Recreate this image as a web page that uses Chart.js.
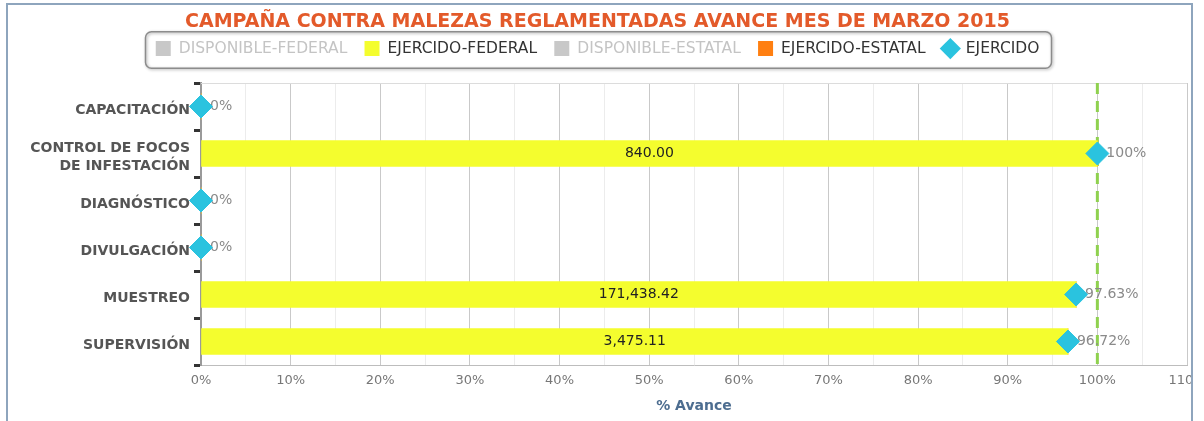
<!DOCTYPE html>
<html lang="es">
<head>
    <meta charset="UTF-8">
    <title>Campaña contra malezas reglamentadas</title>
    <script src="https://cdn.jsdelivr.net/npm/chart.js"></script>
    <style>
        body { margin: 0; background: #fff; }
        #marco {
            position: absolute; left: 6px; top: 3px;
            width: 1183px; height: 440px;
            border: 2px solid #8ea5bd; overflow: hidden;
        }
        #grafica { display: block; }
    </style>
</head>
<body>
    <div id="marco">
        <canvas id="grafica" width="1206" height="416"></canvas>
    </div>

    <script>
        // datos
        const categorias = ['CAPACITACIÓN', ['CONTROL DE FOCOS', 'DE INFESTACIÓN'], 'DIAGNÓSTICO', 'DIVULGACIÓN', 'MUESTREO', 'SUPERVISIÓN'];
        const disponibleFederal = [100, 0, 100, 100, 2.37, 3.28];
        const ejercidoFederal = [0, 100, 0, 0, 97.63, 96.72];
        const disponibleEstatal = [0, 0, 0, 0, 0, 0];
        const ejercidoEstatal = [0, 0, 0, 0, 0, 0];
        const ejercido = [0, 100, 0, 0, 97.63, 96.72];
        const montosFederal = ['', '840.00', '', '', '171,438.42', '3,475.11'];
        const etiquetasEjercido = ['0%', '100%', '0%', '0%', '97.63%', '96.72%'];
        const meta = 100;

        const nombresSeries = ['DISPONIBLE-FEDERAL', 'EJERCIDO-FEDERAL', 'DISPONIBLE-ESTATAL', 'EJERCIDO-ESTATAL', 'EJERCIDO'];
        const coloresSeries = ['#c8c8c8', '#f4fd2e', '#c8c8c8', '#ff7f11', '#2ac3df'];
        const textoLeyenda = ['#c4c4c4', '#333333', '#c4c4c4', '#333333', '#333333'];
        const formaLeyenda = ['rect', 'rect', 'rect', 'rect', 'rectRot'];

        const fuente = 'DejaVu Sans';

        // caja redondeada alrededor de la leyenda
        const cajaLeyenda = {
            id: 'cajaLeyenda',
            afterDraw(chart) {
                const cajas = chart.legend.legendHitBoxes;
                if (!cajas || !cajas.length) return;
                const ctx = chart.ctx;
                const x1 = cajas[0].left - 10;
                const ultima = cajas[cajas.length - 1];
                const x2 = ultima.left + ultima.width + 12;
                const y1 = cajas[0].top - 9;
                const y2 = cajas[0].top + cajas[0].height + 12;
                ctx.save();
                ctx.shadowColor = 'rgba(0,0,0,0.35)';
                ctx.shadowBlur = 3;
                ctx.shadowOffsetX = 1;
                ctx.shadowOffsetY = 1;
                ctx.strokeStyle = '#8c8c8c';
                ctx.lineWidth = 1.5;
                ctx.beginPath();
                ctx.roundRect(x1, y1, x2 - x1, y2 - y1, 6);
                ctx.stroke();
                ctx.restore();
            }
        };

        // linea punteada de la meta y borde superior
        const lineaMeta = {
            id: 'lineaMeta',
            beforeDatasetsDraw(chart) {
                const { ctx, chartArea } = chart;
                const x = chart.scales.x.getPixelForValue(meta);
                ctx.save();
                ctx.strokeStyle = '#dcdcdc';
                ctx.lineWidth = 1;
                ctx.beginPath();
                ctx.moveTo(chartArea.left, chartArea.top + 0.5);
                ctx.lineTo(chartArea.right, chartArea.top + 0.5);
                ctx.stroke();
                ctx.strokeStyle = '#8fd14f';
                ctx.lineWidth = 3;
                ctx.setLineDash([11, 7]);
                ctx.beginPath();
                ctx.moveTo(x, chartArea.top);
                ctx.lineTo(x, chartArea.bottom);
                ctx.stroke();
                ctx.restore();
            }
        };

        // etiquetas de porcentaje y montos
        const etiquetas = {
            id: 'etiquetas',
            beforeDatasetDraw(chart, args) {
                if (args.index !== 4) return;
                const ctx = chart.ctx;
                ctx.save();
                ctx.font = '14px ' + fuente;
                ctx.fillStyle = '#8a8a8a';
                ctx.textBaseline = 'middle';
                ctx.textAlign = 'left';
                args.meta.data.forEach((p, i) => {
                    ctx.fillText(etiquetasEjercido[i], p.x + 9, p.y);
                });
                ctx.restore();
            },
            afterDatasetsDraw(chart) {
                const ctx = chart.ctx;
                const barras = chart.getDatasetMeta(1).data;
                ctx.save();
                ctx.font = '14px ' + fuente;
                ctx.fillStyle = '#222';
                ctx.textBaseline = 'middle';
                ctx.textAlign = 'center';
                barras.forEach((b, i) => {
                    if (!montosFederal[i]) return;
                    ctx.fillText(montosFederal[i], (b.base + b.x) / 2, b.y);
                });
                ctx.restore();
            }
        };

        new Chart(document.getElementById('grafica'), {
            data: {
                labels: categorias,
                datasets: [
                    { type: 'bar', label: nombresSeries[0], data: disponibleFederal, backgroundColor: coloresSeries[0], hidden: true, stack: 'a', barThickness: 26, xAxisID: 'x' },
                    { type: 'bar', label: nombresSeries[1], data: ejercidoFederal, backgroundColor: coloresSeries[1], stack: 'a', barThickness: 26, xAxisID: 'x' },
                    { type: 'bar', label: nombresSeries[2], data: disponibleEstatal, backgroundColor: coloresSeries[2], hidden: true, stack: 'a', barThickness: 26, xAxisID: 'x' },
                    { type: 'bar', label: nombresSeries[3], data: ejercidoEstatal, backgroundColor: coloresSeries[3], stack: 'a', barThickness: 26, xAxisID: 'x' },
                    {
                        type: 'line', label: nombresSeries[4], data: ejercido, showLine: false, stack: 'b', order: -1, xAxisID: 'x',
                        clip: false,
                        pointStyle: 'rectRot', pointRadius: 11.5, pointHoverRadius: 11.5,
                        backgroundColor: coloresSeries[4], borderColor: coloresSeries[4], borderWidth: 1
                    }
                ]
            },
            options: {
                indexAxis: 'y',
                responsive: false,
                animation: false,
                layout: { padding: { left: 0, right: 27, top: 0, bottom: 0 } },
                plugins: {
                    tooltip: { enabled: false },
                    title: {
                        display: true,
                        text: 'CAMPAÑA CONTRA MALEZAS REGLAMENTADAS AVANCE MES DE MARZO 2015',
                        color: '#e35a2a',
                        font: { family: fuente, size: 19, weight: 'bold' },
                        padding: { top: 6, bottom: -10 }
                    },
                    legend: {
                        display: true,
                        labels: {
                            usePointStyle: true,
                            boxHeight: 15,
                            padding: 17,
                            color: '#333',
                            font: { family: fuente, size: 15.5 },
                            generateLabels: () => nombresSeries.map((n, i) => ({
                                text: n,
                                fillStyle: coloresSeries[i],
                                strokeStyle: coloresSeries[i],
                                lineWidth: 0,
                                pointStyle: formaLeyenda[i],
                                fontColor: textoLeyenda[i],
                                hidden: false,
                                datasetIndex: i
                            }))
                        }
                    }
                },
                scales: {
                    x: {
                        type: 'linear',
                        position: 'bottom',
                        stacked: true,
                        min: 0,
                        max: 110,
                        afterFit: s => { s.height = 56; },
                        ticks: {
                            stepSize: 5,
                            autoSkip: false,
                            maxRotation: 0,
                            padding: 8,
                            color: '#777',
                            font: { family: fuente, size: 13 },
                            callback: v => (v % 10 === 0 ? v + '%' : '')
                        },
                        grid: {
                            drawTicks: false,
                            color: c => (c.tick && c.tick.value % 10 === 0 ? '#c9c9c9' : '#ececec')
                        },
                        border: { color: '#bdbdbd', width: 1 },
                        title: {
                            display: true,
                            text: '% Avance',
                            color: '#4d6d90',
                            font: { family: fuente, size: 14, weight: 'bold' },
                            padding: { top: 4, bottom: 6 }
                        }
                    },
                    xTop: {
                        type: 'linear',
                        position: 'top',
                        display: true,
                        afterFit: s => { s.height = 16.7; },
                        ticks: { display: false },
                        grid: { display: false },
                        border: { display: false }
                    },
                    y: {
                        stacked: true,
                        afterFit: s => { s.width = 193; },
                        ticks: {
                            color: '#555',
                            padding: 4,
                            labelOffset: 4,
                            font: { family: fuente, size: 14, weight: 'bold', lineHeight: 1.3 }
                        },
                        grid: {
                            offset: true,
                            drawOnChartArea: false,
                            tickLength: 7,
                            tickWidth: 3,
                            tickColor: '#333'
                        },
                        border: { color: '#9a9a9a', width: 2 }
                    }
                }
            },
            plugins: [cajaLeyenda, lineaMeta, etiquetas]
        });
    </script>
</body>
</html>
